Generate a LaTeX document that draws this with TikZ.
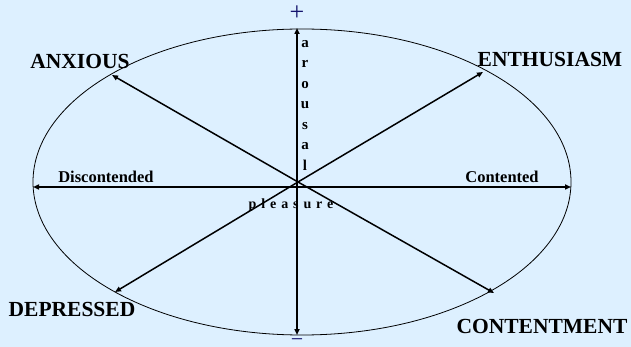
\documentclass[tikz,border=0pt]{standalone}
\usepackage{fontspec}
\setmainfont{Liberation Serif}
\usetikzlibrary{arrows.meta, positioning}
\definecolor{panelblue}{RGB}{221, 240, 255}
\definecolor{signnavy}{RGB}{20, 20, 110}
\tikzstyle{axis} = [{Triangle[length=6pt,width=5pt]}-{Triangle[length=6pt,width=5pt]}, line width=1.5pt, black]
\tikzstyle{mood} = [-{Triangle[length=6pt,width=5pt]}, line width=1.5pt, black]
\tikzstyle{emotion} = [font=\fontsize{21.5}{24}\selectfont\bfseries, inner sep=0pt]
\tikzstyle{pole} = [font=\fontsize{16.5}{19}\selectfont\bfseries, inner sep=0pt]
\tikzstyle{sign} = [font=\fontsize{26}{28}\selectfont, signnavy, inner sep=0pt]

\begin{document}
\begin{tikzpicture}[x=1pt, y=-1pt]

% Background
\fill[panelblue] (0,0) rectangle (631,347);
\useasboundingbox (0,0) rectangle (631,347);

% Ellipse
\draw[line width=0.8pt] (302,182) ellipse [x radius=269, y radius=153];

% Axes
\coordinate (centre) at (298,182);
\coordinate (left) at (33,187);
\coordinate (right) at (571,187);
\coordinate (top) at (297,28);
\coordinate (bottom) at (297,335);
\draw[axis] (left) -- (right);
\draw[axis] (bottom) -- (top);

% Diagonals
\coordinate (anx) at (112,75);
\coordinate (ent) at (483,72);
\coordinate (dep) at (115,292);
\coordinate (con) at (494,293);
\draw[mood] (centre) -- (anx);
\draw[mood] (centre) -- (ent);
\draw[mood] (centre) -- (dep);
\draw[mood] (centre) -- (con);

% Labels
\node[emotion] (anxious) at (80,61) {ANXIOUS};
\node[emotion] (enthusiasm) at (550,59) {ENTHUSIASM};
\node[emotion] (depressed) at (72,309) {DEPRESSED};
\node[emotion] (contentment) at (542,326) {CONTENTMENT};
\node[pole] (discontended) at (106,177) {Discontended};
\node[pole] (contented) at (502,177) {Contented};

\node[font=\fontsize{15}{20.5}\selectfont\bfseries, align=center, inner sep=0pt] (arousal) at (305,105) {a\\r\\o\\u\\s\\a\\l};
\node[font=\fontsize{14}{15}\selectfont\bfseries\addfontfeature{LetterSpace=35}, inner sep=0pt] (pleasure) at (291,205) {pleasure};

\node[sign] (plus) at (297,13) {+};
\node[sign, font=\fontsize{22}{24}\selectfont, anchor=base] (minus) at (297,346.5) {\textminus};

\end{tikzpicture}
\end{document}
